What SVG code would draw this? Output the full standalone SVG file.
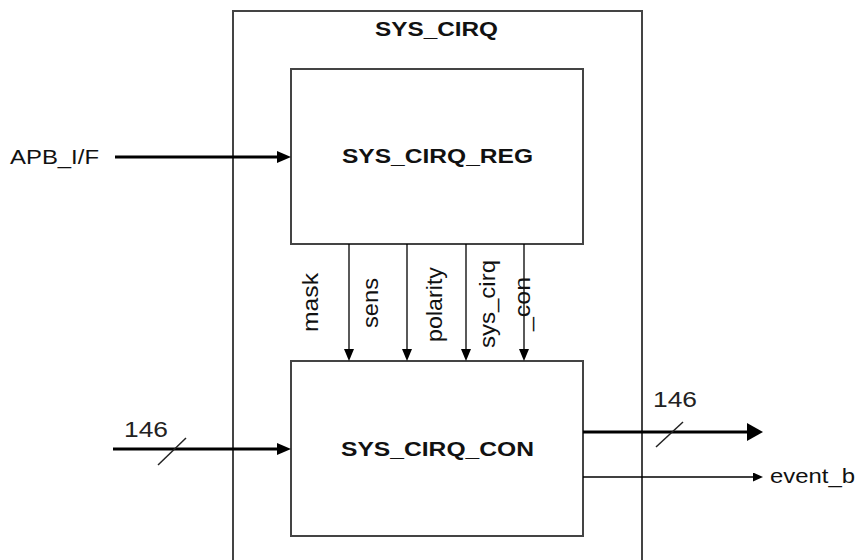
<svg xmlns="http://www.w3.org/2000/svg" width="858" height="560" viewBox="0 0 858 560">
<style>
.box{fill:#fff;stroke:#444;stroke-width:2}
.thick{stroke:#000;stroke-width:3;fill:none}
.thin{stroke:#000;stroke-width:1.3;fill:none}
.slash{stroke:#222;stroke-width:1.5;fill:none}
.t{font-family:"Liberation Sans",Arial,sans-serif;font-size:21px;fill:#111}
.r{font-size:22px}
.b{font-weight:bold;font-size:20px}
.num{font-family:"Liberation Sans",Arial,sans-serif;font-size:22px;fill:#222}
</style>
<defs>
<marker id="headS" markerUnits="userSpaceOnUse" markerWidth="12" markerHeight="10" refX="0" refY="5" orient="auto"><path d="M0,0 L12,5 L0,10 z" fill="#000"/></marker>
<marker id="headM" markerUnits="userSpaceOnUse" markerWidth="14" markerHeight="12" refX="0" refY="6" orient="auto"><path d="M0,0 L14,6 L0,12 z" fill="#000"/></marker>
<marker id="headL" markerUnits="userSpaceOnUse" markerWidth="16" markerHeight="18" refX="0" refY="9" orient="auto"><path d="M0,0 L16,9 L0,18 z" fill="#000"/></marker>
<marker id="headT" markerUnits="userSpaceOnUse" markerWidth="10" markerHeight="9" refX="0" refY="4.5" orient="auto"><path d="M0,0 L10,4.5 L0,9 z" fill="#000"/></marker>
</defs>

<g id="sys_cirq">
<rect class="box" x="233" y="11" width="409" height="570"/>
<text class="t b" x="436.5" y="36" text-anchor="middle" textLength="123" lengthAdjust="spacingAndGlyphs">SYS_CIRQ</text>
</g>

<g id="sys_cirq_reg">
<rect class="box" x="291" y="69" width="292" height="175"/>
<text class="t b" x="437.5" y="163" text-anchor="middle" textLength="191" lengthAdjust="spacingAndGlyphs">SYS_CIRQ_REG</text>
</g>

<g id="sys_cirq_con">
<rect class="box" x="291" y="361" width="292" height="175"/>
<text class="t b" x="437.5" y="456" text-anchor="middle" textLength="193" lengthAdjust="spacingAndGlyphs">SYS_CIRQ_CON</text>
</g>

<g id="connectors">
<line class="thick" x1="115" y1="157" x2="277" y2="157" marker-end="url(#headM)"/>
<line class="thick" x1="113" y1="449" x2="277" y2="449" marker-end="url(#headM)"/>
<line class="slash" x1="158" y1="465" x2="186" y2="438"/>
<line class="thick" x1="583" y1="432" x2="747" y2="432" marker-end="url(#headL)"/>
<line class="slash" x1="656" y1="447" x2="683" y2="422"/>
<line class="thin" x1="583" y1="477" x2="753" y2="477" marker-end="url(#headT)"/>
<line class="thin" x1="349" y1="244" x2="349" y2="349" marker-end="url(#headS)"/>
<line class="thin" x1="407" y1="244" x2="407" y2="349" marker-end="url(#headS)"/>
<line class="thin" x1="466" y1="244" x2="466" y2="349" marker-end="url(#headS)"/>
<line class="thin" x1="524" y1="244" x2="524" y2="349" marker-end="url(#headS)"/>
</g>

<g id="labels">
<text class="t" x="10" y="164" textLength="89" lengthAdjust="spacingAndGlyphs">APB_I/F</text>
<text class="num" x="124" y="437" textLength="44" lengthAdjust="spacingAndGlyphs">146</text>
<text class="num" x="653" y="407" textLength="44" lengthAdjust="spacingAndGlyphs">146</text>
<text class="t" x="770" y="483" textLength="85" lengthAdjust="spacingAndGlyphs">event_b</text>
<text class="t r" transform="translate(318,302.5) rotate(-90)" text-anchor="middle" textLength="59" lengthAdjust="spacingAndGlyphs">mask</text>
<text class="t r" transform="translate(378,303) rotate(-90)" text-anchor="middle" textLength="50" lengthAdjust="spacingAndGlyphs">sens</text>
<text class="t r" transform="translate(442,304.5) rotate(-90)" text-anchor="middle" textLength="75" lengthAdjust="spacingAndGlyphs">polarity</text>
<text class="t r" transform="translate(495,304) rotate(-90)" text-anchor="middle" textLength="88" lengthAdjust="spacingAndGlyphs">sys_cirq</text>
<text class="t r" transform="translate(530,304) rotate(-90)" text-anchor="middle" textLength="54" lengthAdjust="spacingAndGlyphs">_con</text>
</g>
</svg>
